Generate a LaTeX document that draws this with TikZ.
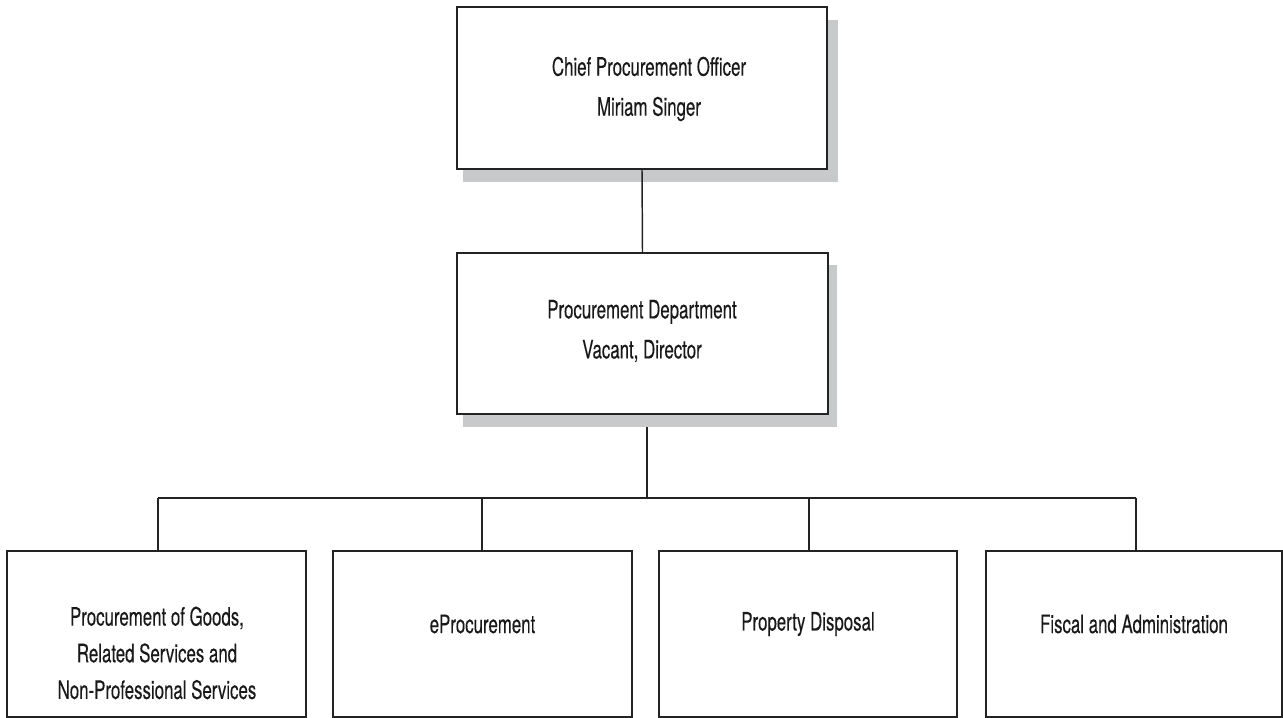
\documentclass[tikz,border=0pt]{standalone}
\usepackage{fontspec}
\setmainfont{TeX Gyre Heros}[FakeStretch=0.665,FakeBold=0.25]
\definecolor{shadowgray}{RGB}{200,201,203}
\definecolor{inkline}{RGB}{35,35,35}
\begin{document}
\begin{tikzpicture}[x=0.75pt,y=-0.75pt,
  box/.style={draw=inkline,line width=1.3pt,fill=white,inner sep=0pt},
  shade/.style={fill=shadowgray,draw=none,inner sep=0pt},
  lbl/.style={font=\fontsize{19}{30}\selectfont,align=center,text=black!90,inner sep=0pt},
  lblb/.style={lbl,font=\fontsize{19}{27.5}\selectfont},
  link/.style={draw=inkline,line width=1.1pt}]
\useasboundingbox (0,0) rectangle (1283,718);

% drop shadows of the two upper boxes
\node[shade,minimum width={375*0.75pt},minimum height={162*0.75pt}] (s1) at (650.5,101) {};
\node[shade,minimum width={374*0.75pt},minimum height={162*0.75pt}] (s2) at (650,346) {};

% upper boxes
\node[box,minimum width={370*0.75pt},minimum height={162*0.75pt}] (cpo) at (642,88) {};
\node[box,minimum width={371*0.75pt},minimum height={161*0.75pt}] (dept) at (642.5,333.5) {};

% unit boxes
\node[box,minimum width={299*0.75pt},minimum height={166*0.75pt}] (u1) at (156.5,634) {};
\node[box,minimum width={299*0.75pt},minimum height={166*0.75pt}] (u2) at (482.5,634) {};
\node[box,minimum width={298*0.75pt},minimum height={166*0.75pt}] (u3) at (808,634) {};
\node[box,minimum width={296*0.75pt},minimum height={166*0.75pt}] (u4) at (1134,634) {};

% labels
\node[lbl] (tcpo) at (649,89) {Chief Procurement Officer\\Miriam Singer};
\node[lbl] (tdept) at (642,331) {Procurement Department\\Vacant, Director};
\node[lblb] (tu1) at (157,653) {Procurement of Goods,\\Related Services and\\Non-Professional Services};
\node[lbl] (tu2) at (482.5,624) {eProcurement};
\node[lbl] (tu3) at (808,624) {Property Disposal};
\node[lbl] (tu4) at (1134,624) {Fiscal and Administration};

% connectors
\coordinate (j) at (647,498);
\coordinate (d1) at (158,498);
\coordinate (d2) at (482,498);
\coordinate (d3) at (809,498);
\coordinate (d4) at (1136,498);
\draw[link] (cpo.south) -- (dept.north);
\draw[link] (s2.south -| j) -- (j);
\draw[link] (d1) -- (d4);
\draw[link] (d1) -- (u1.north -| d1);
\draw[link] (d2) -- (u2.north -| d2);
\draw[link] (d3) -- (u3.north -| d3);
\draw[link] (d4) -- (u4.north -| d4);
\end{tikzpicture}
\end{document}
